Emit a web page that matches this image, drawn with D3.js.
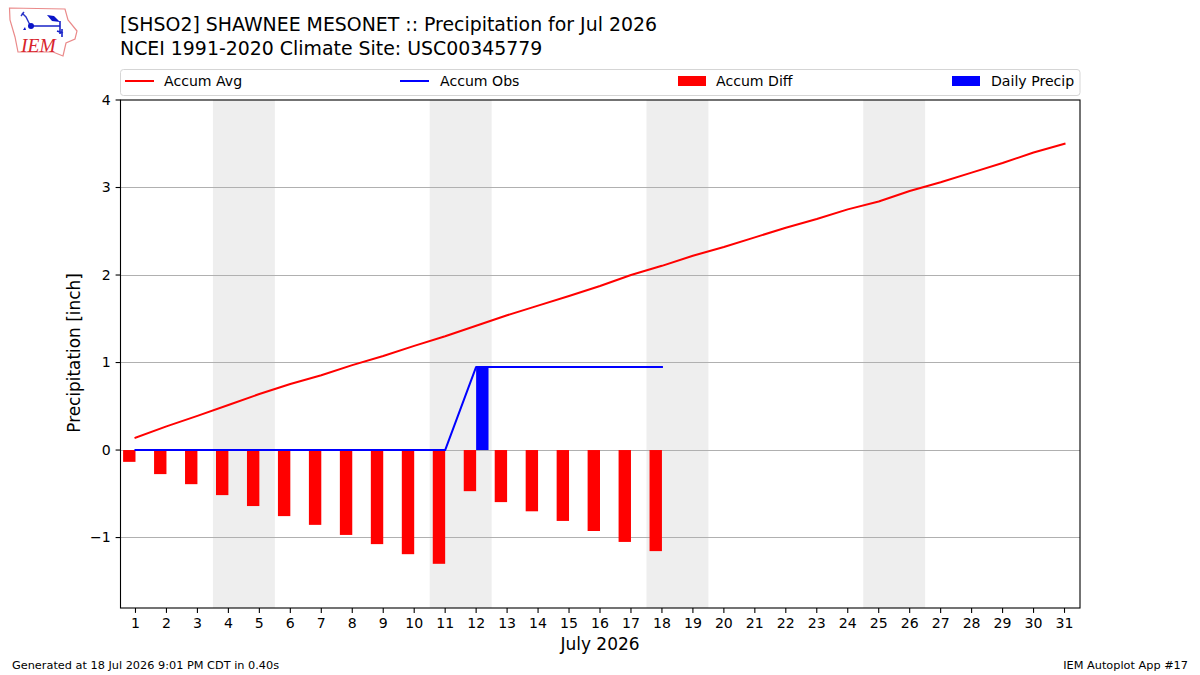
<!DOCTYPE html>
<html>
<head>
<meta charset="utf-8">
<script src="https://cdn.jsdelivr.net/npm/d3@7/dist/d3.min.js"></script>
<style>
html, body { margin: 0; padding: 0; background: #fff; }
svg { display: block; }
text { font-family: "DejaVu Sans", sans-serif; fill: #000; }
</style>
</head>
<body>
<svg id="chart" width="1200" height="675"></svg>
<script>
// Daily precipitation accumulation for one station, July 2026
const titleLines = [
  "[SHSO2] SHAWNEE MESONET :: Precipitation for Jul 2026",
  "NCEI 1991-2020 Climate Site: USC00345779"
];
const days = d3.range(1, 32);
const accumAvg = [0.14, 0.27, 0.39, 0.515, 0.64, 0.755, 0.855, 0.97, 1.075, 1.19, 1.30,
  1.42, 1.54, 1.65, 1.76, 1.875, 2.0, 2.105, 2.22, 2.32, 2.43, 2.54, 2.64, 2.75, 2.84,
  2.96, 3.06, 3.17, 3.28, 3.40, 3.50];
const accumObs = [0, 0, 0, 0, 0, 0, 0, 0, 0, 0, 0, 0.95, 0.95, 0.95, 0.95, 0.95, 0.95, 0.95];
const accumDiff = [-0.135, -0.275, -0.39, -0.515, -0.64, -0.755, -0.855, -0.97, -1.075, -1.19,
  -1.30, -0.47, -0.595, -0.70, -0.81, -0.925, -1.05, -1.155];
const dailyPrecip = [0, 0, 0, 0, 0, 0, 0, 0, 0, 0, 0, 0.95, 0, 0, 0, 0, 0, 0];
const weekendBands = [[3.5, 5.5], [10.5, 12.5], [17.5, 19.5], [24.5, 26.5]];
const yTicks = [-1, 0, 1, 2, 3, 4];
const legendEntries = ["Accum Avg", "Accum Obs", "Accum Diff", "Daily Precip"];

const plot = { left: 120, right: 1080, top: 100, bottom: 608 };
const barSpan = 0.4;

const svg = d3.select("#chart");
const x = d3.scaleLinear().domain([0.5, 31.5]).range([plot.left, plot.right]);
const y = d3.scaleLinear().domain([4, -1.805]).range([plot.top, plot.bottom]);
const crisp = v => Math.floor(v) + 0.5;

// Weekend shading
svg.append("g").selectAll("rect").data(weekendBands).join("rect")
  .attr("x", d => x(d[0]))
  .attr("width", d => x(d[1]) - x(d[0]))
  .attr("y", plot.top)
  .attr("height", plot.bottom - plot.top)
  .attr("fill", "#eeeeee");

// Horizontal grid
svg.append("g").selectAll("line").data(yTicks.slice(0, -1)).join("line")
  .attr("x1", plot.left).attr("x2", plot.right)
  .attr("y1", d => crisp(y(d))).attr("y2", d => crisp(y(d)))
  .attr("stroke", "#b0b0b0").attr("stroke-width", 1.1);

// Departure bars sit left of each day, rainfall bars to the right
svg.append("g").selectAll("rect").data(accumDiff).join("rect")
  .attr("x", (d, i) => x(days[i] - barSpan))
  .attr("width", x(barSpan) - x(0))
  .attr("y", y(0))
  .attr("height", d => y(d) - y(0))
  .attr("fill", "#ff0000");

svg.append("g").selectAll("rect").data(dailyPrecip).join("rect")
  .attr("x", (d, i) => x(days[i]))
  .attr("width", x(barSpan) - x(0))
  .attr("y", d => y(d))
  .attr("height", d => y(0) - y(d))
  .attr("fill", "#0000ff");

// Accumulation lines
const line = d3.line().x((d, i) => x(days[i])).y(d => y(d));
svg.append("path").attr("d", line(accumAvg))
  .attr("fill", "none").attr("stroke", "#ff0000").attr("stroke-width", 2)
  .attr("stroke-linecap", "square").attr("stroke-linejoin", "round");
svg.append("path").attr("d", line(accumObs))
  .attr("fill", "none").attr("stroke", "#0000ff").attr("stroke-width", 2)
  .attr("stroke-linecap", "square").attr("stroke-linejoin", "round");

// Axes
const xAxis = d3.axisBottom(x).tickValues(days).tickFormat(d3.format("d"))
  .tickSize(4.9).tickPadding(4.8).offset(0);
const yAxis = d3.axisLeft(y).tickValues(yTicks)
  .tickFormat(d => d < 0 ? "\u2212" + Math.abs(d) : d).tickSize(4.9).tickPadding(4.8).offset(0);

const gx = svg.append("g").attr("transform", `translate(0,${plot.bottom})`).call(xAxis);
const gy = svg.append("g").attr("transform", `translate(${plot.left + 0.5},0)`).call(yAxis);
[gx, gy].forEach(g => {
  g.select(".domain").remove();
  g.selectAll("line").attr("stroke", "#000").attr("stroke-width", 1.1);
  g.selectAll("text").attr("font-size", 14.1).attr("font-family", "DejaVu Sans");
});

// Plot frame
svg.append("rect")
  .attr("x", plot.left + 0.5).attr("y", plot.top)
  .attr("width", plot.right - plot.left - 0.5).attr("height", plot.bottom - plot.top)
  .attr("fill", "none").attr("stroke", "#000").attr("stroke-width", 1.1);

// Axis titles
svg.append("text").attr("x", (plot.left + plot.right) / 2).attr("y", 650)
  .attr("text-anchor", "middle").attr("font-size", 17).text("July 2026");
svg.append("text")
  .attr("transform", "translate(79.5,353) rotate(-90)")
  .attr("text-anchor", "middle").attr("font-size", 16.9).text("Precipitation [inch]");

// Titles
titleLines.forEach((t, i) => {
  svg.append("text").attr("x", 120).attr("y", 31 + i * 23.7)
    .attr("font-size", 18.9).text(t);
});

// Legend
const legend = svg.append("g");
legend.append("rect")
  .attr("x", 120.5).attr("y", 69.5).attr("width", 959.5).attr("height", 26).attr("rx", 3)
  .attr("fill", "#fff").attr("stroke", "#d5d5d5").attr("stroke-width", 1);
const legendPos = [
  { key: 125, text: 164, kind: "line", color: "#ff0000" },
  { key: 400, text: 440, kind: "line", color: "#0000ff" },
  { key: 678, text: 716, kind: "box", color: "#ff0000" },
  { key: 952, text: 991, kind: "box", color: "#0000ff" }
];
legendEntries.forEach((label, i) => {
  const p = legendPos[i];
  if (p.kind === "line") {
    legend.append("line").attr("x1", p.key).attr("x2", p.key + 29)
      .attr("y1", 81).attr("y2", 81).attr("stroke", p.color).attr("stroke-width", 2);
  } else {
    legend.append("rect").attr("x", p.key).attr("y", 76).attr("width", 28).attr("height", 10)
      .attr("fill", p.color);
  }
  legend.append("text").attr("x", p.text).attr("y", 86).attr("font-size", 14.1).text(label);
});

// Footer
svg.append("text").attr("x", 12).attr("y", 669).attr("font-size", 11.3)
  .text("Generated at 18 Jul 2026 9:01 PM CDT in 0.40s");
svg.append("text").attr("x", 1188).attr("y", 669).attr("text-anchor", "end").attr("font-size", 11.3)
  .text("IEM Autoplot App #17");

// IEM badge: state outline, weather instruments and wordmark
const badge = svg.append("g");
badge.append("path")
  .attr("d", "M9.5,8 L65,9 L68,20 L77,31 L75,39 L66,43 L63,56 L53,52 L18,52 L15,37 L10,20 Z")
  .attr("fill", "none").attr("stroke", "#ea8a8a").attr("stroke-width", 1.2);
badge.append("path")
  .attr("d", "M22,13 L26,17 L30,25 M21,16 L24,12")
  .attr("fill", "none").attr("stroke", "#2a34c8").attr("stroke-width", 1.4);
badge.append("path")
  .attr("d", "M31,26 L60,26 M60,21 L60,34 M57,31 L63,33 M62,29 L62,37")
  .attr("fill", "none").attr("stroke", "#1a24c8").attr("stroke-width", 1.6);
badge.append("path").attr("d", "M47,15 L54,16 L60,22 L52,21 Z").attr("fill", "#0a14c8");
badge.append("circle").attr("cx", 31).attr("cy", 26).attr("r", 3).attr("fill", "#0a14c8");
badge.append("path").attr("d", "M23,30 L25,27 L26,30 Z").attr("fill", "#0a14c8");
badge.append("text").attr("x", 21).attr("y", 51.5)
  .attr("font-size", 19.5).attr("font-style", "italic")
  .style("font-family", "'Liberation Serif', serif").style("fill", "#d8242c")
  .text("IEM");
</script>
</body>
</html>
